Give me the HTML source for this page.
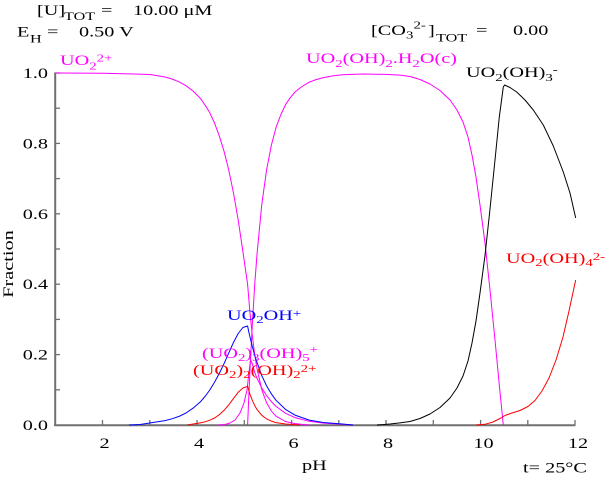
<!DOCTYPE html>
<html><head><meta charset="utf-8"><style>
html,body{margin:0;padding:0;background:#fff}
svg{display:block}
text{font-family:"Liberation Serif","DejaVu Serif",serif;font-size:15px}
</style></head><body>
<svg width="612" height="480" viewBox="0 0 612 480" xmlns="http://www.w3.org/2000/svg">
<rect width="612" height="480" fill="#fff"/>
<!-- axes -->
<g stroke="#707070" fill="none">
<line x1="55.2" y1="72.5" x2="55.2" y2="426" stroke-width="2"/>
<line x1="54.2" y1="425.2" x2="575.5" y2="425.2" stroke-width="2"/>
<g stroke-width="1.3">
<line x1="55" y1="73" x2="60" y2="73"/>
<line x1="55" y1="108.2" x2="60" y2="108.2"/>
<line x1="55" y1="143.4" x2="60" y2="143.4"/>
<line x1="55" y1="178.6" x2="60" y2="178.6"/>
<line x1="55" y1="213.8" x2="60" y2="213.8"/>
<line x1="55" y1="249" x2="60" y2="249"/>
<line x1="55" y1="284.2" x2="60" y2="284.2"/>
<line x1="55" y1="319.4" x2="60" y2="319.4"/>
<line x1="55" y1="354.6" x2="60" y2="354.6"/>
<line x1="55" y1="389.8" x2="60" y2="389.8"/>
<line x1="102.5" y1="425" x2="102.5" y2="420"/>
<line x1="149.8" y1="425" x2="149.8" y2="420"/>
<line x1="197" y1="425" x2="197" y2="420"/>
<line x1="244.3" y1="425" x2="244.3" y2="420"/>
<line x1="291.6" y1="425" x2="291.6" y2="420"/>
<line x1="338.8" y1="425" x2="338.8" y2="420"/>
<line x1="386" y1="425" x2="386" y2="420"/>
<line x1="433.3" y1="425" x2="433.3" y2="420"/>
<line x1="480.6" y1="425" x2="480.6" y2="420"/>
<line x1="527.8" y1="425" x2="527.8" y2="420"/>
<line x1="575" y1="425" x2="575" y2="420"/>
</g>
</g>

<!-- curves -->
<g fill="none" stroke-width="1" stroke-linejoin="round">
<!-- UO2 2+ -->
<polyline stroke="#ff00ff" points="55,73 102.5,73.3 130,73.9 150,74.5 165,77 172,79 179,81.8 186,85.7 193,91 200.3,98.3 205,105 209.8,112.8 214.5,123 219.2,135.7 224,151.1 228.7,169.8 233.4,192.7 238.2,220.1 242.9,251.5 247.6,284.2 248.6,296.5 250,313.1 252.4,336.3 254.7,354.6 257.1,369 261.8,389.8 266.6,402.8 271.3,410.9 276,416.2 285.5,421.5 295,423.6 309,425"/>
<!-- solid -->
<polyline stroke="#ff00ff" points="247.6,425 248.6,401.4 250,369.4 252.4,322.9 254.7,284.9 257.1,253.2 261.8,204.3 266.6,169.8 271.3,145.5 276,127.6 280.7,115 285.5,104.7 290.2,97.8 295,92 302,86.5 309.2,82.2 316,79.6 323.4,77.6 332,76 342.3,74.8 362.6,74 386.3,74.4 400,75.1 410,76.5 420,79.5 430,84 440,90.5 450,100 457,110 463,122 468,137 472,155 476,177 480,205 485,243 490,290 495,340 499.3,385 503.3,425"/>
<!-- trimer -->
<polyline stroke="#ff00ff" points="218,425 225,424.5 230,423 235,420 240,413 244,403 247,390 249,372 250.5,360 252.4,364 254.7,372.6 257.1,378.4 261.8,388 266.6,395.6 271.3,401.6 276,406.4 285.5,413.3 295,417.6 309.2,421.3 323.4,423.1 342.3,424.3 352,425"/>
<!-- UO2OH+ -->
<polyline stroke="#0000ff" points="129,425 140,424.5 153,422.5 165,420.6 172,418.8 179,416.4 186,413 193,408.2 200.3,401.9 205,396.5 209.8,390 214.5,382.3 219.2,373.6 224,363.7 228.7,353.2 233.4,342.6 238.2,333.5 242.9,327.5 247.6,326 248.6,331 250,337.2 252.4,346.9 254.7,355.3 257.1,362.7 261.8,375.7 266.6,385.9 271.3,393.8 276,400.3 285.5,409.4 295,415.1 309.2,420.1 323.4,422.5 342.3,424 353,425"/>
<!-- dimer -->
<polyline stroke="#ff0000" points="187,425 200.3,422.9 205,421.8 209.8,420.2 214.5,418 219.2,414.8 224,410.4 228.7,404.9 233.4,398.6 238.2,392.3 242.9,388 247.6,386.3 248.6,389.8 250,394.3 252.4,400.6 254.7,405.6 257.1,409.6 261.8,415.3 266.6,418.9 271.3,421.1 276,422.6 285.5,424 300,425"/>
<!-- UO2(OH)3- -->
<polyline stroke="#000000" points="377,425 390,424 400,422.9 410,421.5 420,418.5 430,414 440,407.5 450,398 457,388 463,376 468,361 472,343 476,321 480,293 485,255.5 490,209 495,160 499.3,117 503.3,87 504.6,85 510,87.5 516.7,92 525,100 533.3,110 543.3,125 553.3,146 563.3,172 570,193 575.7,218"/>
<!-- UO2(OH)4 2- -->
<polyline stroke="#ff0000" points="476,425 485,424.3 493,422 500,418.5 505,415.5 512,413 520,410.5 528,406.5 535,400.5 542,391 549,378 556,360 563,337 569,311 575.7,280"/>
</g>

<!-- header text -->
<g fill="#000">
<g transform="translate(37,15) scale(1.35,1)"><text>[U]</text></g>
<g transform="translate(64,20) scale(1.35,1)"><text style="font-size:12px">TOT</text></g>
<g transform="translate(101,15) scale(1.35,1)"><text>=</text></g>
<g transform="translate(133,15) scale(1.35,1)"><text>10.00 μM</text></g>

<g transform="translate(17,36.5) scale(1.35,1)"><text>E</text></g>
<g transform="translate(30,42.5) scale(1.35,1)"><text style="font-size:12px">H</text></g>
<g transform="translate(47,36.5) scale(1.35,1)"><text>=</text></g>
<g transform="translate(79,36.5) scale(1.35,1)"><text>0.50 V</text></g>

<g transform="translate(371,35) scale(1.35,1)"><text>[CO</text></g>
<g transform="translate(406,38.5) scale(1.35,1)"><text style="font-size:11px">3</text></g>
<g transform="translate(413.5,28.5) scale(1.35,1)"><text style="font-size:11px">2-</text></g>
<g transform="translate(428,35) scale(1.35,1)"><text>]</text></g>
<g transform="translate(436,41.5) scale(1.35,1)"><text style="font-size:12px">TOT</text></g>
<g transform="translate(476,35) scale(1.35,1)"><text>=</text></g>
<g transform="translate(513,35) scale(1.35,1)"><text>0.00</text></g>
</g>

<!-- species labels -->
<g transform="translate(60,65) scale(1.35,1)"><text fill="#ff00ff">UO<tspan style="font-size:11px" dy="4.5">2</tspan><tspan style="font-size:11px" dy="-8">2+</tspan></text></g>
<g transform="translate(306,63) scale(1.35,1)"><text fill="#ff00ff">UO<tspan style="font-size:11px" dy="4">2</tspan><tspan dy="-4">(OH)</tspan><tspan style="font-size:11px" dy="4">2</tspan><tspan dy="-4">.H</tspan><tspan style="font-size:11px" dy="4">2</tspan><tspan dy="-4">O(c)</tspan></text></g>
<g transform="translate(466,77) scale(1.35,1)"><text fill="#000">UO<tspan style="font-size:11px" dy="4">2</tspan><tspan dy="-4">(OH)</tspan><tspan style="font-size:11px" dy="4">3</tspan><tspan style="font-size:11px" dy="-8">-</tspan></text></g>
<g transform="translate(227,320) scale(1.35,1)"><text fill="#0000ff">UO<tspan style="font-size:11px" dy="3">2</tspan><tspan dy="-3">OH</tspan><tspan style="font-size:11px" dy="-3">+</tspan></text></g>
<g transform="translate(202,358) scale(1.35,1)"><text fill="#ff00ff">(UO<tspan style="font-size:11px" dy="3">2</tspan><tspan dy="-3">)</tspan><tspan style="font-size:11px" dy="3">3</tspan><tspan dy="-3">(OH)</tspan><tspan style="font-size:11px" dy="3">5</tspan><tspan style="font-size:11px" dy="-8">+</tspan></text></g>
<g transform="translate(193,375) scale(1.35,1)"><text fill="#ff0000">(UO<tspan style="font-size:11px" dy="3">2</tspan><tspan dy="-3">)</tspan><tspan style="font-size:11px" dy="3">2</tspan><tspan dy="-3">(OH)</tspan><tspan style="font-size:11px" dy="3">2</tspan><tspan style="font-size:11px" dy="-6">2+</tspan></text></g>
<g transform="translate(506,263) scale(1.35,1)"><text fill="#ff0000">UO<tspan style="font-size:11px" dy="3">2</tspan><tspan dy="-3">(OH)</tspan><tspan style="font-size:11px" dy="3">4</tspan><tspan style="font-size:11px" dy="-6">2-</tspan></text></g>

<!-- axis labels -->
<g fill="#000">
<g transform="translate(48,78) scale(1.35,1)"><text text-anchor="end">1.0</text></g>
<g transform="translate(48,148.4) scale(1.35,1)"><text text-anchor="end">0.8</text></g>
<g transform="translate(48,218.8) scale(1.35,1)"><text text-anchor="end">0.6</text></g>
<g transform="translate(48,289.2) scale(1.35,1)"><text text-anchor="end">0.4</text></g>
<g transform="translate(48,359.6) scale(1.35,1)"><text text-anchor="end">0.2</text></g>
<g transform="translate(48,430) scale(1.35,1)"><text text-anchor="end">0.0</text></g>

<g transform="translate(104.5,448) scale(1.35,1)"><text text-anchor="middle">2</text></g>
<g transform="translate(199,448) scale(1.35,1)"><text text-anchor="middle">4</text></g>
<g transform="translate(293.6,448) scale(1.35,1)"><text text-anchor="middle">6</text></g>
<g transform="translate(388,448) scale(1.35,1)"><text text-anchor="middle">8</text></g>
<g transform="translate(483.5,448) scale(1.35,1)"><text text-anchor="middle">10</text></g>
<g transform="translate(578,448) scale(1.35,1)"><text text-anchor="middle">12</text></g>

<g transform="translate(302,470) scale(1.35,1)"><text>pH</text></g>
<g transform="translate(523,472.5) scale(1.35,1)"><text>t= 25°C</text></g>
<g transform="translate(13,264) rotate(-90) scale(1.35,1)"><text text-anchor="middle">Fraction</text></g>
</g>
</svg>
</body></html>
